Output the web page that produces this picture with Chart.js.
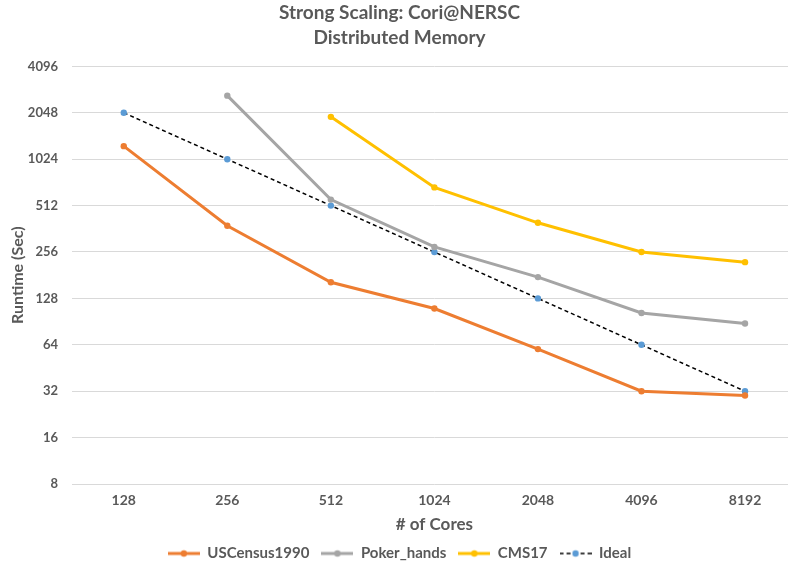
<!DOCTYPE html>
<html>
<head>
<meta charset="utf-8">
<script src="https://cdn.jsdelivr.net/npm/chart.js@4.4.0/dist/chart.umd.min.js"></script>
<style>
  html, body { margin: 0; padding: 0; background: #fff; overflow: hidden; }
  #wrap { width: 800px; height: 573px; }
</style>
</head>
<body>
<div id="wrap"><canvas id="myChart" width="800" height="573"></canvas></div>
<script>
// datos
const cores = ['128', '256', '512', '1024', '2048', '4096', '8192'];
const usCensus = [1244, 379, 163, 110, 60, 32, 30];
const pokerHands = [null, 2646, 560, 276, 176, 103, 88];
const cms17 = [null, null, 1928, 672, 396, 256, 220];
const ideal = [2048, 1024, 512, 256, 128, 64, 32];
const yTicks = [8, 16, 32, 64, 128, 256, 512, 1024, 2048, 4096];

const textColor = '#595959';
const fontFam = 'Lato, "Open Sans", sans-serif';

// icono de leyenda: línea con punto en el medio
function iconoLeyenda(lineColor, dotColor, dashed) {
    const c = document.createElement('canvas');
    c.width = 32; c.height = 10;
    const g = c.getContext('2d');
    g.strokeStyle = lineColor;
    g.lineWidth = dashed ? 1.5 : 3;
    if (dashed) g.setLineDash([4, 3]);
    g.beginPath(); g.moveTo(0, 5); g.lineTo(32, 5); g.stroke();
    g.setLineDash([]);
    g.fillStyle = dotColor;
    g.beginPath(); g.arc(16, 5, 3.2, 0, Math.PI * 2); g.fill();
    return c;
}

const iconos = [
    iconoLeyenda('#ED7D31', '#ED7D31', false),
    iconoLeyenda('#A5A5A5', '#A5A5A5', false),
    iconoLeyenda('#FFC000', '#FFC000', false),
    iconoLeyenda('#000000', '#5B9BD5', true)
];

function serie(label, data, color, pointColor, dashed) {
    return {
        label: label,
        data: data,
        borderColor: color,
        backgroundColor: pointColor,
        pointBackgroundColor: pointColor,
        pointBorderColor: pointColor,
        borderWidth: dashed ? 1.5 : 3,
        borderDash: dashed ? [4, 3] : [],
        pointRadius: 3.2,
        pointBorderWidth: 0,
        pointHoverRadius: 3.2,
        tension: 0,
        fill: false
    };
}

const ctx = document.getElementById('myChart').getContext('2d');
const myChart = new Chart(ctx, {
    type: 'line',
    data: {
        labels: cores,
        datasets: [
            serie('USCensus1990', usCensus, '#ED7D31', '#ED7D31', false),
            serie('Poker_hands', pokerHands, '#A5A5A5', '#A5A5A5', false),
            serie('CMS17', cms17, '#FFC000', '#FFC000', false),
            serie('Ideal', ideal, '#000000', '#5B9BD5', true)
        ]
    },
    options: {
        responsive: false,
        animation: false,
        layout: { padding: { left: 0, right: 1, top: 0, bottom: 2 } },
        plugins: {
            title: {
                display: true,
                text: ['Strong Scaling: Cori@NERSC', 'Distributed Memory'],
                color: textColor,
                font: { family: fontFam, size: 19, weight: 'bold', lineHeight: 1.3 },
                padding: { top: 1, bottom: 16 }
            },
            legend: {
                position: 'bottom',
                labels: {
                    color: textColor,
                    font: { family: fontFam, size: 15, weight: 'bold' },
                    usePointStyle: true,
                    pointStyleWidth: 32,
                    padding: 12,
                    generateLabels: function (chart) {
                        const items = Chart.defaults.plugins.legend.labels.generateLabels(chart);
                        items.forEach((it, i) => { it.pointStyle = iconos[i]; });
                        return items;
                    }
                }
            },
            tooltip: { enabled: false }
        },
        scales: {
            x: {
                offset: true,
                grid: { display: false, drawTicks: false },
                border: { display: false },
                ticks: { color: textColor, font: { family: fontFam, size: 14, weight: 'bold', lineHeight: 1 }, padding: 9 },
                title: {
                    display: true,
                    text: '# of Cores',
                    color: textColor,
                    font: { family: fontFam, size: 17, weight: 'bold', lineHeight: 1 },
                    padding: { top: 0, bottom: 1 }
                }
            },
            y: {
                type: 'logarithmic',
                min: 8,
                max: 4096,
                afterBuildTicks: function (axis) {
                    axis.ticks = yTicks.map(v => ({ value: v }));
                },
                afterFit: function (axis) {
                    axis.width = 72;
                },
                grid: { color: '#D9D9D9', lineWidth: 1, drawTicks: false },
                border: { display: false },
                ticks: {
                    color: textColor,
                    font: { family: fontFam, size: 13, weight: 'bold' },
                    padding: 14,
                    callback: function (v) { return String(v); }
                },
                title: {
                    display: true,
                    text: 'Runtime (Sec)',
                    color: textColor,
                    font: { family: fontFam, size: 16, weight: 'bold' },
                    padding: { top: 8, bottom: 2 }
                }
            }
        }
    }
});
</script>
</body>
</html>
